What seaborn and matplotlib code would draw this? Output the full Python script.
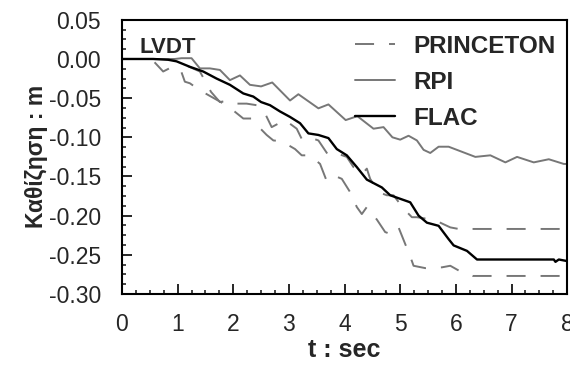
import numpy as np
import pandas as pd
import matplotlib
matplotlib.use('Agg')
import matplotlib.pyplot as plt
from matplotlib.ticker import AutoMinorLocator, MultipleLocator, FormatStrFormatter
import seaborn as sns

# Data (t in sec, settlement in m)
rpi_t = [0, 0.95, 1.07, 1.25, 1.40, 1.58, 1.76, 1.94, 2.12, 2.30, 2.50, 2.70, 3.02, 3.17,
         3.53, 3.71, 4.02, 4.23, 4.52, 4.70, 4.86, 5.00, 5.15, 5.30, 5.42, 5.54, 5.69, 5.87,
         6.35, 6.62, 6.89, 7.10, 7.40, 7.67, 7.94, 8.0]
rpi_y = [0, 0, 0.001, 0.001, -0.012, -0.012, -0.014, -0.027, -0.021, -0.033, -0.035, -0.030,
         -0.053, -0.045, -0.063, -0.058, -0.078, -0.073, -0.089, -0.087, -0.100, -0.103,
         -0.098, -0.104, -0.116, -0.120, -0.112, -0.112, -0.125, -0.123, -0.132, -0.125,
         -0.132, -0.128, -0.134, -0.134]

flac_t = [0, 0.56, 0.83, 0.98, 1.22, 1.46, 1.70, 1.94, 2.18, 2.36, 2.50, 2.66, 2.84, 3.02,
          3.20, 3.35, 3.53, 3.71, 3.86, 4.04, 4.22, 4.40, 4.67, 4.82, 5.18, 5.33, 5.48, 5.69,
          5.87, 5.96, 6.20, 6.38, 7.76, 7.79, 7.85, 8.0]
flac_y = [0, 0, -0.001, -0.003, -0.010, -0.016, -0.025, -0.033, -0.044, -0.048, -0.055,
          -0.059, -0.067, -0.074, -0.082, -0.095, -0.097, -0.101, -0.115, -0.123, -0.138,
          -0.154, -0.164, -0.174, -0.183, -0.200, -0.209, -0.213, -0.230, -0.238, -0.245,
          -0.256, -0.256, -0.259, -0.256, -0.258]

# Princeton, two runs
pr1_t = [0, 0.95, 1.05, 1.40, 1.60, 1.76, 1.91, 2.03, 2.24, 2.42, 2.54, 2.69, 2.93, 3.14,
         3.23, 3.32, 3.53, 3.71, 3.88, 4.04, 4.16, 4.31, 4.40, 4.46, 4.61, 4.76, 4.88, 5.06,
         5.21, 5.30, 5.48, 5.63, 5.90, 6.05, 8.0]
pr1_y = [0, 0, -0.005, -0.016, -0.042, -0.055, -0.053, -0.057, -0.057, -0.059, -0.065,
         -0.087, -0.078, -0.089, -0.102, -0.099, -0.104, -0.123, -0.121, -0.125, -0.138,
         -0.147, -0.140, -0.153, -0.170, -0.174, -0.174, -0.191, -0.202, -0.202, -0.204,
         -0.206, -0.215, -0.217, -0.217]

pr2_t = [0, 0.53, 0.74, 0.85, 1.05, 1.13, 1.22, 1.40, 1.60, 1.90, 2.18, 2.33, 2.42, 2.60,
         2.72, 2.87, 3.11, 3.23, 3.38, 3.56, 3.68, 3.85, 3.95, 4.10, 4.22, 4.31, 4.40, 4.58,
         4.73, 4.85, 4.97, 5.10, 5.21, 5.24, 5.45, 5.75, 5.90, 6.05, 6.30, 8.0]
pr2_y = [0, 0, -0.016, -0.012, -0.013, -0.029, -0.031, -0.040, -0.048, -0.060, -0.076,
         -0.076, -0.084, -0.097, -0.104, -0.105, -0.115, -0.123, -0.123, -0.134, -0.156,
         -0.150, -0.153, -0.170, -0.189, -0.198, -0.189, -0.205, -0.221, -0.224, -0.215,
         -0.238, -0.258, -0.264, -0.267, -0.266, -0.264, -0.270, -0.277, -0.277]

sns.set_style('ticks')
plt.rcParams['font.family'] = ['Liberation Sans', 'DejaVu Sans']
plt.rcParams['axes.unicode_minus'] = False
plt.rcParams['xtick.direction'] = 'in'
plt.rcParams['ytick.direction'] = 'in'

fig = plt.figure(figsize=(5.7, 3.67), dpi=100)
ax = fig.add_axes([0.214, 0.199, 0.781, 0.747])

gray = '#777777'
dash = (0, (9.8, 7.7))
sns.lineplot(x=pr1_t, y=pr1_y, ax=ax, color=gray, lw=1.4, linestyle=dash,
             estimator=None, label='PRINCETON')
sns.lineplot(x=pr2_t, y=pr2_y, ax=ax, color=gray, lw=1.4, linestyle=dash,
             estimator=None)
sns.lineplot(x=rpi_t, y=rpi_y, ax=ax, color=gray, lw=1.4, estimator=None, label='RPI')
sns.lineplot(x=flac_t, y=flac_y, ax=ax, color='black', lw=1.7, estimator=None, label='FLAC')

ax.set_xlim(0, 8)
ax.set_ylim(-0.30, 0.05)
ax.xaxis.set_major_locator(MultipleLocator(1))
ax.yaxis.set_major_locator(MultipleLocator(0.05))
ax.yaxis.set_major_formatter(FormatStrFormatter('%.2f'))
ax.xaxis.set_minor_locator(AutoMinorLocator(4))
ax.yaxis.set_minor_locator(AutoMinorLocator(4))
ax.tick_params(which='major', length=7, width=1.4, labelsize=16.5)
ax.tick_params(axis='y', which='major', pad=15)
ax.tick_params(axis='x', which='major', pad=14)
ax.tick_params(which='minor', length=3, width=1.2)
for s in ax.spines.values():
    s.set_linewidth(1.5)
    s.set_color('black')

ax.set_xlabel('t : sec', fontsize=18, fontweight='bold', labelpad=1)
ax.set_ylabel('Καθίζηση : m', fontsize=16.5, fontweight='bold', labelpad=1)

ax.text(0.04, 0.90, 'LVDT', transform=ax.transAxes, fontsize=16, fontweight='bold',
        va='center', ha='left')

ax.legend(loc='upper left', bbox_to_anchor=(0.524, 0.945), frameon=False,
          prop={'size': 17.5, 'weight': 'bold'}, handlelength=1.65, handletextpad=0.74,
          labelspacing=0.53, borderpad=0, borderaxespad=0)

fig.savefig('out.png', dpi=100)
